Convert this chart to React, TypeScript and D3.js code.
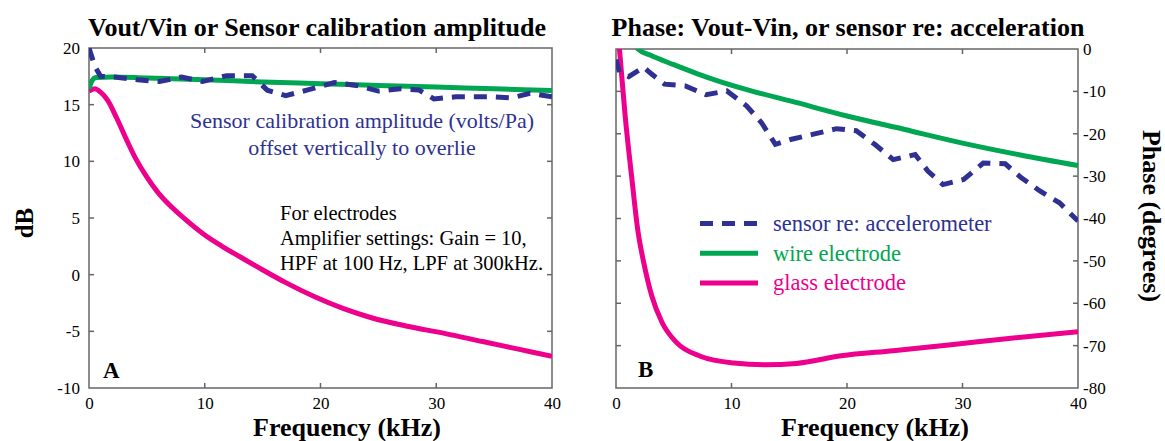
import * as d3 from 'd3'
import { useEffect, useRef } from 'react'

// frequency ticks (kHz)
const freqTicks = [0, 10, 20, 30, 40]
const dbTicks = [20, 15, 10, 5, 0, -5, -10]
const phaseTicks = [0, -10, -20, -30, -40, -50, -60, -70, -80]

// Panel A: amplitude (dB) vs frequency (kHz)
const sensorAmp: [number, number][] = [
  [0, 20], [0.5, 18.4], [1, 17.5], [2.2, 17.44], [4.2, 17.2], [6.1, 17.04], [8, 17.44],
  [9.8, 17.04], [11.9, 17.56], [14.1, 17.56], [15.4, 16.28], [17, 15.8], [18.9, 16.3],
  [21.2, 16.95], [23.1, 16.7], [25, 16.2], [26.9, 16.4], [28.5, 16.3], [29.8, 15.5],
  [31.7, 15.7], [34.6, 15.7], [36.5, 15.6], [38.1, 16.0], [40, 15.7],
]
const wireAmp: [number, number][] = [
  [0, 16.4], [0.2, 17.0], [0.6, 17.4], [2, 17.45], [5, 17.35], [10, 17.2], [15, 17.0],
  [20, 16.85], [25, 16.7], [30, 16.55], [35, 16.4], [40, 16.25],
]
const glassAmp: [number, number][] = [
  [0, 16.2], [0.5, 16.4], [1, 16.1], [1.6, 15.4], [2.4, 13.8], [3.2, 12.0], [4, 10.3],
  [5, 8.6], [6, 7.2], [7, 6.1], [8.3, 4.9], [10, 3.5], [11.5, 2.5], [13, 1.6],
  [14.7, 0.6], [17, -0.7], [19.5, -1.95], [22, -3.0], [24.4, -3.8], [27.5, -4.55],
  [30.8, -5.2], [34, -5.9], [37, -6.55], [40, -7.2],
]

// Panel B: phase (degrees) vs frequency (kHz)
const sensorPhase: [number, number][] = [
  [0, -2.5], [0.3, -5.5], [1.1, -6.5], [2.4, -4.3], [2.9, -5.5], [4.2, -8.3], [6, -8.7],
  [7.8, -10.8], [9.6, -9.9], [11.3, -13.4], [12.6, -17.4], [13.8, -22.5], [15.2, -21.3],
  [17.1, -20.1], [19.1, -18.8], [20.8, -19.3], [22.4, -22.5], [24, -26.1], [25.9, -24.9],
  [27, -28.8], [28.3, -32], [30.1, -30.8], [31.8, -26.9], [33.7, -27.1], [35.1, -30.4],
  [36.7, -33.5], [38.4, -36.3], [40, -40.6],
]
const wirePhase: [number, number][] = [
  [1.6, 1], [1.9, 0], [3, -1.5], [5, -3.7], [7, -5.8], [9, -7.7], [12, -10.1], [15, -12.2],
  [20, -15.8], [25, -19], [30, -22.2], [35, -25], [40, -27.5],
]
const glassPhase: [number, number][] = [
  [0.2, 3], [0.3, 0], [0.8, -16], [1.35, -30], [1.9, -43], [2.4, -50.4], [3.1, -58.3],
  [4, -64.6], [5.25, -69.3], [7.3, -72.5], [10.2, -74.1], [13, -74.5], [15.6, -74.2],
  [19.5, -72.4], [24, -71.2], [29, -69.8], [34, -68.3], [40, -66.7],
]

const legendItems = [
  { label: 'sensor re: accelerometer', color: '#2e3192', dash: '13,9' },
  { label: 'wire electrode', color: '#00a651', dash: null },
  { label: 'glass electrode', color: '#ec008c', dash: null },
]

const BLUE = '#2e3192'
const GREEN = '#00a651'
const PINK = '#ec008c'
const AXIS = '#666'
const SERIF = "'Liberation Serif', 'DejaVu Serif', serif"

export default function App() {
  const ref = useRef<SVGGElement>(null)

  useEffect(() => {
    const root = d3.select(ref.current)
    root.selectAll('*').remove()

    const panel = (
      box: { left: number; right: number; top: number; bottom: number },
      yDomain: [number, number],
      yTicks: number[],
      labelSide: 'left' | 'right',
      series: { data: [number, number][]; color: string; dash: string | null; curve: any }[],
      id: string
    ) => {
      const x = d3.scaleLinear().domain([0, 40]).range([box.left, box.right])
      const y = d3.scaleLinear().domain(yDomain).range([box.top, box.bottom])
      const g = root.append('g')

      g.append('clipPath').attr('id', id)
        .append('rect')
        .attr('x', box.left).attr('y', box.top)
        .attr('width', box.right - box.left).attr('height', box.bottom - box.top)

      // bottom tick labels
      g.append('g')
        .attr('transform', `translate(0,${box.bottom})`)
        .call(d3.axisBottom(x).tickValues(freqTicks).tickSize(0).tickPadding(9))
        .call((a) => a.select('.domain').remove())
        .call((a) => a.selectAll('text').attr('font-size', 17).attr('font-family', SERIF).attr('fill', '#000'))

      // inward ticks on all four sides
      const tickLen = 5
      freqTicks.slice(1, -1).forEach((t) => {
        g.append('line').attr('x1', x(t)).attr('x2', x(t)).attr('y1', box.bottom).attr('y2', box.bottom - tickLen).attr('stroke', AXIS).attr('stroke-width', 1.5)
        g.append('line').attr('x1', x(t)).attr('x2', x(t)).attr('y1', box.top).attr('y2', box.top + tickLen).attr('stroke', AXIS).attr('stroke-width', 1.5)
      })
      yTicks.slice(1, -1).forEach((t) => {
        g.append('line').attr('x1', box.left).attr('x2', box.left + tickLen).attr('y1', y(t)).attr('y2', y(t)).attr('stroke', AXIS).attr('stroke-width', 1.5)
        g.append('line').attr('x1', box.right).attr('x2', box.right - tickLen).attr('y1', y(t)).attr('y2', y(t)).attr('stroke', AXIS).attr('stroke-width', 1.5)
      })

      g.append('g')
        .selectAll('text')
        .data(yTicks)
        .join('text')
        .attr('x', labelSide === 'left' ? box.left - 9 : box.right + 5)
        .attr('y', (d) => y(d))
        .attr('dy', '0.35em')
        .attr('text-anchor', labelSide === 'left' ? 'end' : 'start')
        .attr('font-size', 17)
        .attr('font-family', SERIF)
        .text((d) => (d < 0 ? '-' + Math.abs(d) : String(d)))

      g.append('rect')
        .attr('x', box.left).attr('y', box.top)
        .attr('width', box.right - box.left).attr('height', box.bottom - box.top)
        .attr('fill', 'none').attr('stroke', AXIS).attr('stroke-width', 1.5)

      const plot = g.append('g').attr('clip-path', `url(#${id})`)
      series.forEach((s) => {
        const line = d3.line<[number, number]>()
          .x((d) => x(d[0]))
          .y((d) => y(d[1]))
          .curve(s.curve)
        plot.append('path')
          .datum(s.data)
          .attr('d', line)
          .attr('fill', 'none')
          .attr('stroke', s.color)
          .attr('stroke-width', 5)
          .attr('stroke-dasharray', s.dash)
      })
    }

    panel(
      { left: 89, right: 552, top: 48, bottom: 388 },
      [20, -10], dbTicks, 'left',
      [
        { data: glassAmp, color: PINK, dash: null, curve: d3.curveMonotoneX },
        { data: wireAmp, color: GREEN, dash: null, curve: d3.curveMonotoneX },
        { data: sensorAmp, color: BLUE, dash: '13,9', curve: d3.curveLinear },
      ],
      'clipA'
    )
    panel(
      { left: 616, right: 1078, top: 49, bottom: 388 },
      [0, -80], phaseTicks, 'right',
      [
        { data: glassPhase, color: PINK, dash: null, curve: d3.curveMonotoneX },
        { data: wirePhase, color: GREEN, dash: null, curve: d3.curveMonotoneX },
        { data: sensorPhase, color: BLUE, dash: '13,9', curve: d3.curveLinear },
      ],
      'clipB'
    )

    // legend in panel B
    const lg = root.append('g')
    legendItems.forEach((d, i) => {
      const yy = 223.5 + i * 29.7
      lg.append('line').attr('x1', 700).attr('x2', 758).attr('y1', yy).attr('y2', yy)
        .attr('stroke', d.color).attr('stroke-width', 5).attr('stroke-dasharray', d.dash)
      lg.append('text').attr('x', 773).attr('y', yy).attr('dy', '0.33em')
        .attr('font-size', 22.5).attr('font-family', SERIF).attr('fill', d.color).text(d.label)
    })
  }, [])

  const title = { fontWeight: 'bold' as const, fontSize: 26 }
  const label = { fontWeight: 'bold' as const, fontSize: 26 }

  return (
    <svg width={1165} height={441} fontFamily={SERIF} style={{ position: 'absolute', left: 0, top: 0, background: '#fff', fontFamily: SERIF }}>
      <g ref={ref} />
      <text x={317} y={36} textAnchor="middle" {...title}>Vout/Vin or Sensor calibration amplitude</text>
      <text x={848} y={36} textAnchor="middle" {...title}>Phase: Vout-Vin, or sensor re: acceleration</text>
      <text x={347} y={436} textAnchor="middle" {...label}>Frequency (kHz)</text>
      <text x={875} y={436} textAnchor="middle" {...label}>Frequency (kHz)</text>
      <text transform="translate(33,223) rotate(-90)" textAnchor="middle" {...label} fontSize={25}>dB</text>
      <text transform="translate(1143,216) rotate(90)" textAnchor="middle" {...label}>Phase (degrees)</text>
      <text x={362} y={128} textAnchor="middle" fontSize={22} fill={BLUE}>Sensor calibration amplitude (volts/Pa)</text>
      <text x={362} y={155} textAnchor="middle" fontSize={22} fill={BLUE}>offset vertically to overlie</text>
      <text x={280} y={220} fontSize={20.5}>For electrodes</text>
      <text x={280} y={245} fontSize={20.5}>Amplifier settings: Gain = 10,</text>
      <text x={280} y={270} fontSize={20.5}>HPF at 100 Hz, LPF at 300kHz.</text>
      <text x={103} y={378} fontWeight="bold" fontSize={23}>A</text>
      <text x={638} y={377} fontWeight="bold" fontSize={23}>B</text>
    </svg>
  )
}
